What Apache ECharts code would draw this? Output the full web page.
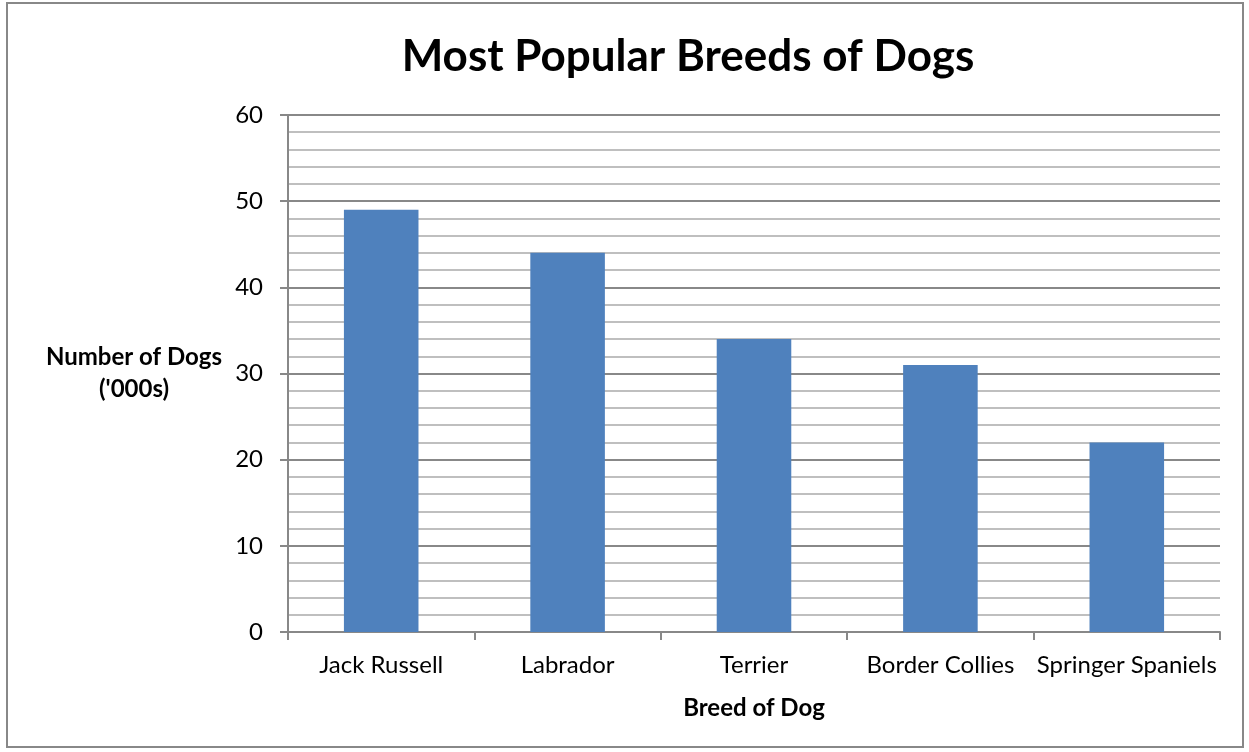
<!DOCTYPE html>
<html>
<head>
<meta charset="utf-8">
<script src="https://cdn.jsdelivr.net/npm/echarts@6/dist/echarts.min.js"></script>
<style>
html,body{margin:0;padding:0;background:#fff;}
#c{width:1249px;height:752px;}
#b{position:absolute;left:6px;top:2px;width:1238px;height:746px;border:2px solid #888;box-sizing:border-box;pointer-events:none;}
</style>
</head>
<body>
<div id="c"></div>
<div id="b"></div>
<script>
const categories = ['Jack Russell', 'Labrador', 'Terrier', 'Border Collies', 'Springer Spaniels'];
const values = [49, 44, 34, 31, 22];
const titleText = 'Most Popular Breeds of Dogs';
const xName = 'Breed of Dog';
const yName = "Number of Dogs\n('000s)";

const FONT = 'Lato, "Open Sans", sans-serif';
const chart = echarts.init(document.getElementById('c'));
chart.setOption({
  animation: false,
  title: {
    text: titleText,
    left: 683, top: 30, textAlign: 'center',
    textStyle: {fontFamily: FONT, fontSize: 44, fontWeight: 'bold', color: '#000'}
  },
  grid: {left: 288, right: 29, top: 115, bottom: 120, containLabel: false},
  xAxis: {
    type: 'category',
    data: categories,
    name: xName,
    nameLocation: 'middle',
    nameGap: 76,
    nameTextStyle: {fontFamily: FONT, fontSize: 24, fontWeight: 'bold', color: '#000', verticalAlign: 'middle'},
    axisLine: {lineStyle: {color: '#888', width: 2}},
    axisTick: {show: true, length: 8, lineStyle: {color: '#888', width: 2}},
    axisLabel: {fontFamily: FONT, fontSize: 24, color: '#000', margin: 21, interval: 0},
    splitLine: {show: false}
  },
  yAxis: {
    type: 'value',
    min: 0, max: 60, interval: 10,
    name: yName,
    nameLocation: 'middle',
    nameRotate: 0,
    nameGap: 154,
    nameTextStyle: {fontFamily: FONT, fontSize: 24, fontWeight: 'bold', color: '#000', align: 'center', verticalAlign: 'middle', lineHeight: 32},
    axisLine: {show: true, lineStyle: {color: '#888', width: 2}},
    axisTick: {show: true, length: 8, lineStyle: {color: '#888', width: 2}},
    axisLabel: {fontFamily: FONT, fontSize: 24, color: '#000', margin: 25},
    splitLine: {show: true, lineStyle: {color: '#888', width: 2}},
    minorTick: {show: false, splitNumber: 5},
    minorSplitLine: {show: true, lineStyle: {color: '#aaa', width: 1.5}}
  },
  series: [{
    type: 'bar',
    data: values,
    barWidth: '40%',
    itemStyle: {color: '#4f81bd'}
  }]
});
</script>
</body>
</html>
